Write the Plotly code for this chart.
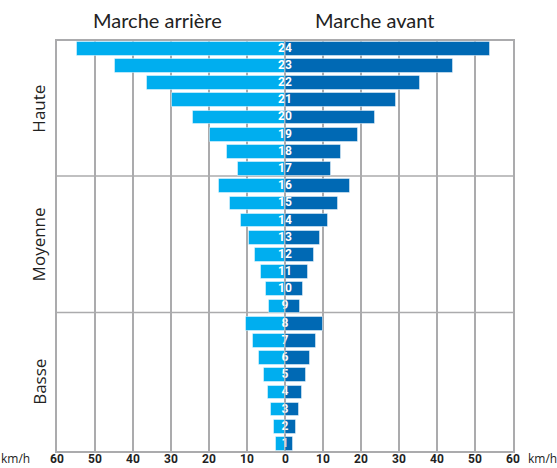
import plotly.graph_objects as go

gears = list(range(1, 25))
reverse_kmh = [2.3, 3.0, 3.8, 4.5, 5.6, 6.9, 8.4, 10.3,
               4.2, 5.0, 6.3, 7.8, 9.5, 11.6, 14.4, 17.5,
               12.4, 15.3, 19.7, 24.1, 29.7, 36.2, 44.8, 54.7]
forward_kmh = [2.2, 2.9, 3.7, 4.5, 5.4, 6.7, 8.2, 10.1,
               4.0, 4.8, 6.0, 7.5, 9.2, 11.2, 14.0, 17.1,
               12.0, 14.8, 19.2, 23.7, 29.1, 35.6, 44.2, 54.0]
tick_vals = [-60, -50, -40, -30, -20, -10, 0, 10, 20, 30, 40, 50, 60]
tick_text = [str(abs(v)) for v in tick_vals]
ranges = ["Basse", "Moyenne", "Haute"]
range_centers = [4.6, 12.6, 20.5]
range_splits = [8.65, 16.6]

LIGHT = "#00AEEF"
DARK = "#0069B4"
GRID = "#ABABAD"

fig = go.Figure()
fig.add_trace(go.Bar(
    y=gears, x=[-v for v in reverse_kmh], orientation="h",
    marker=dict(color=LIGHT, line=dict(color="rgba(255,255,255,0.45)", width=1)),
    width=0.8, showlegend=False, hoverinfo="skip"))
fig.add_trace(go.Bar(
    y=gears, x=forward_kmh, orientation="h",
    marker=dict(color=DARK, line=dict(color="rgba(255,255,255,0.45)", width=1)),
    width=0.8, showlegend=False, hoverinfo="skip"))
fig.add_trace(go.Scatter(
    y=gears, x=[0] * len(gears), mode="text", text=[str(g) for g in gears],
    textfont=dict(family="Roboto", size=12, color="white", weight="bold"),
    textposition="middle center", showlegend=False, hoverinfo="skip"))

fig.add_shape(type="line", xref="x", yref="paper", x0=0, x1=0, y0=0, y1=1,
              line=dict(color=GRID, width=1), layer="above")
for s in range_splits:
    fig.add_shape(type="line", xref="paper", yref="y", x0=0, x1=1, y0=s, y1=s,
                  line=dict(color=GRID, width=1.5), layer="below")

for name, c in zip(ranges, range_centers):
    fig.add_annotation(text=name, xref="paper", yref="y", x=-0.04, y=c,
                       textangle=-90, showarrow=False, xanchor="center", yanchor="middle",
                       font=dict(family="Open Sans", size=17, color="#222"))

# x tick labels (placed from the axis tick values)
for v, t in zip(tick_vals, tick_text):
    fig.add_annotation(text=t, xref="x", yref="paper", x=v, y=-0.0385,
                       showarrow=False, xanchor="center", yanchor="bottom", borderpad=0,
                       font=dict(family="Roboto", size=12, color="#222", weight="bold"))

fig.add_annotation(text="Marche arrière", xref="paper", yref="paper", x=0.22, y=1.051,
                   showarrow=False, xanchor="center", yanchor="middle",
                   font=dict(family="Lato", size=20, color="#222"))
fig.add_annotation(text="Marche avant", xref="paper", yref="paper", x=0.697, y=1.051,
                   showarrow=False, xanchor="center", yanchor="middle",
                   font=dict(family="Lato", size=20, color="#222"))
fig.add_annotation(text="km/h", xref="paper", yref="paper", x=-0.091, y=-0.018,
                   showarrow=False, xanchor="center", yanchor="middle",
                   font=dict(family="Open Sans", size=12, color="#222"))
fig.add_annotation(text="km/h", xref="paper", yref="paper", x=1.064, y=-0.018,
                   showarrow=False, xanchor="center", yanchor="middle",
                   font=dict(family="Open Sans", size=12, color="#222"))

fig.update_layout(
    width=557, height=468,
    margin=dict(l=56.5, r=44, t=41, b=17, autoexpand=False),
    plot_bgcolor="white", paper_bgcolor="white",
    barmode="overlay", bargap=0,
    xaxis=dict(range=[-60, 60], tickvals=tick_vals, showticklabels=False,
               showgrid=True, gridcolor=GRID, gridwidth=1.5, zeroline=False,
               showline=True, linecolor=GRID, linewidth=2, mirror=True,
               ticks="", fixedrange=True),
    yaxis=dict(range=[0.59, 24.45], showticklabels=False, showgrid=False, zeroline=False,
               showline=True, linecolor=GRID, linewidth=2, mirror=True, ticks="",
               fixedrange=True),
)
fig.write_html("out.html", config={"displayModeBar": False},
               post_script="document.body.style.margin='0';document.body.style.overflow='hidden';")
